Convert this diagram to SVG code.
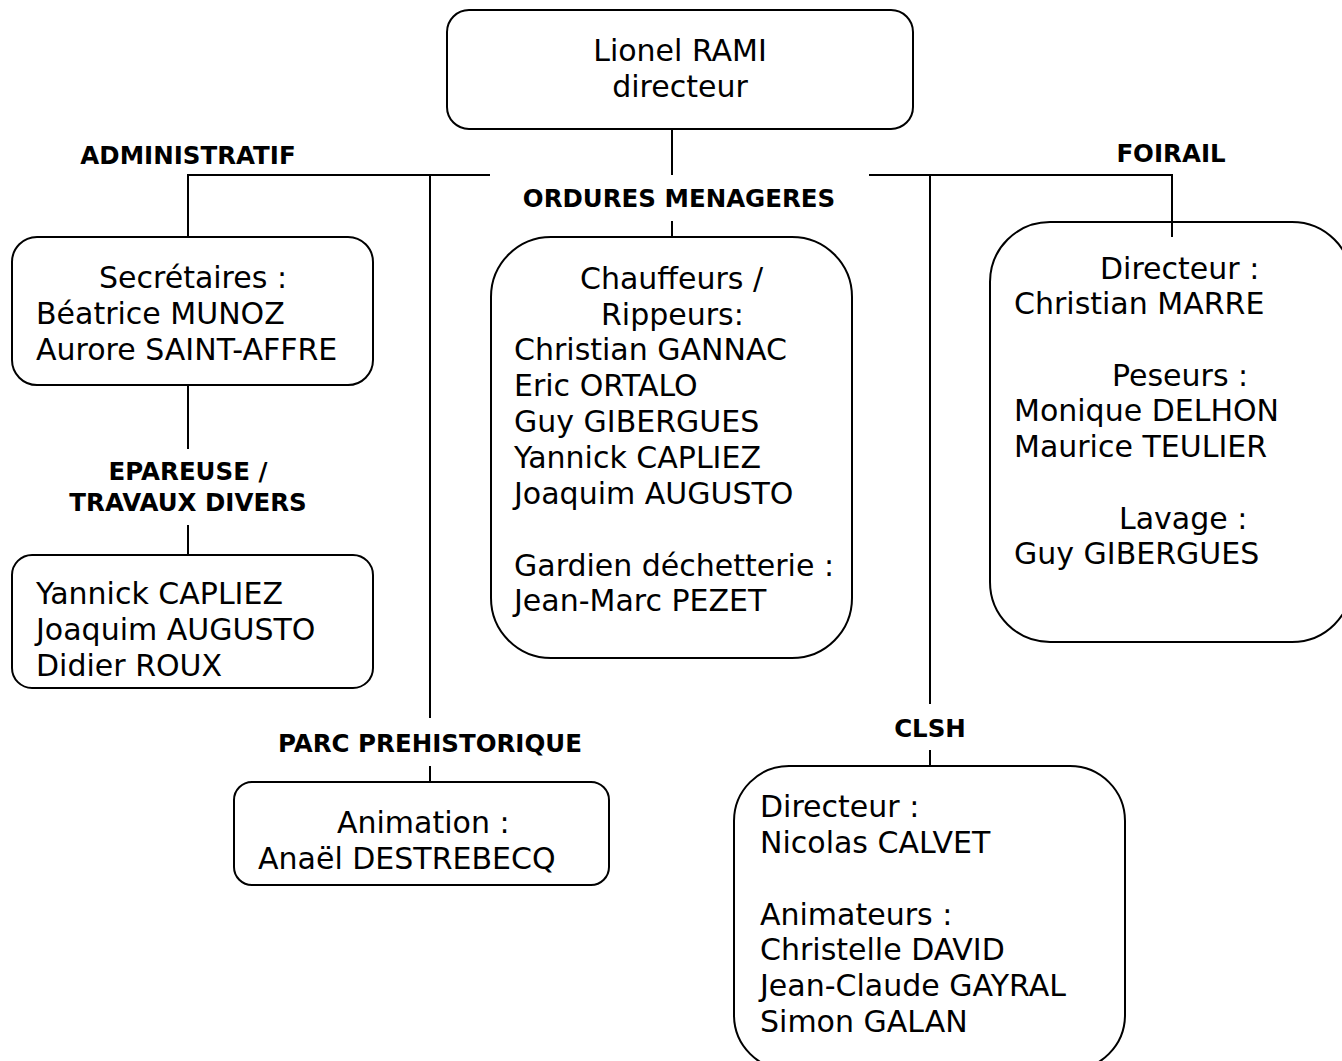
<svg xmlns="http://www.w3.org/2000/svg" width="1342" height="1061" viewBox="0 0 1342 1061">
<style>
.box{fill:#fff;stroke:#000;stroke-width:2}
.t{font-family:"DejaVu Sans",Verdana,sans-serif;font-size:30px;fill:#000}
.c{text-anchor:middle}
.lbl{font-family:"DejaVu Sans",Verdana,sans-serif;font-size:24.5px;font-weight:bold;fill:#000;text-anchor:middle}
.ln{stroke:#000;stroke-width:2;fill:none}
</style>
<rect width="1342" height="1061" fill="#fff"/>
<g id="connectors">
<line class="ln" x1="672" y1="129" x2="672" y2="175"/>
<line class="ln" x1="188" y1="175" x2="490" y2="175"/>
<line class="ln" x1="869" y1="175" x2="1172" y2="175"/>
<line class="ln" x1="188" y1="174" x2="188" y2="237"/>
<line class="ln" x1="430" y1="174" x2="430" y2="718"/>
<line class="ln" x1="430" y1="766" x2="430" y2="782"/>
<line class="ln" x1="930" y1="174" x2="930" y2="704"/>
<line class="ln" x1="930" y1="750" x2="930" y2="766"/>
<line class="ln" x1="1172" y1="174" x2="1172" y2="222"/>
<line class="ln" x1="672" y1="221" x2="672" y2="237"/>
<line class="ln" x1="188" y1="385" x2="188" y2="449"/>
<line class="ln" x1="188" y1="525" x2="188" y2="555"/>
</g>
<g id="director">
<rect class="box" x="447" y="10" width="466" height="119" rx="22"/>
<text class="t c" x="680" y="61">Lionel RAMI</text>
<text class="t c" x="680" y="97">directeur</text>
</g>
<g id="label-administratif"><text class="lbl" x="188" y="164">ADMINISTRATIF</text></g>
<g id="label-ordures"><text class="lbl" x="679" y="207">ORDURES MENAGERES</text></g>
<g id="label-foirail"><text class="lbl" x="1171" y="162">FOIRAIL</text></g>
<g id="label-epareuse">
<text class="lbl" x="188" y="480">EPAREUSE /</text>
<text class="lbl" x="188" y="511">TRAVAUX DIVERS</text>
</g>
<g id="label-parc"><text class="lbl" x="430" y="752">PARC PREHISTORIQUE</text></g>
<g id="label-clsh"><text class="lbl" x="930" y="737">CLSH</text></g>
<g id="secretaires">
<rect class="box" x="12" y="237" width="361" height="148" rx="25"/>
<text class="t" x="99" y="288">Secrétaires :</text>
<text class="t" x="36" y="324">Béatrice MUNOZ</text>
<text class="t" x="36" y="360">Aurore SAINT-AFFRE</text>
</g>
<g id="epareuse">
<rect class="box" x="12" y="555" width="361" height="133" rx="20"/>
<text class="t" x="36" y="604">Yannick CAPLIEZ</text>
<text class="t" x="36" y="640">Joaquim AUGUSTO</text>
<text class="t" x="36" y="676">Didier ROUX</text>
</g>
<g id="ordures">
<rect class="box" x="491" y="237" width="361" height="421" rx="60"/>
<text class="t" x="580" y="289">Chauffeurs /</text>
<text class="t" x="601" y="325">Rippeurs:</text>
<text class="t" x="514" y="360">Christian GANNAC</text>
<text class="t" x="514" y="396">Eric ORTALO</text>
<text class="t" x="514" y="432">Guy GIBERGUES</text>
<text class="t" x="514" y="468">Yannick CAPLIEZ</text>
<text class="t" x="514" y="504">Joaquim AUGUSTO</text>
<text class="t" x="514" y="576">Gardien déchetterie :</text>
<text class="t" x="514" y="611">Jean-Marc PEZET</text>
</g>
<g id="foirail">
<rect class="box" x="990" y="222" width="362" height="420" rx="60"/>
<line class="ln" x1="1172" y1="222" x2="1172" y2="237"/>
<text class="t" x="1100" y="279">Directeur :</text>
<text class="t" x="1014" y="314">Christian MARRE</text>
<text class="t" x="1112" y="386">Peseurs :</text>
<text class="t" x="1014" y="421">Monique DELHON</text>
<text class="t" x="1014" y="457">Maurice TEULIER</text>
<text class="t" x="1119" y="529">Lavage :</text>
<text class="t" x="1014" y="564">Guy GIBERGUES</text>
</g>
<g id="parc">
<rect class="box" x="234" y="782" width="375" height="103" rx="18"/>
<text class="t" x="337" y="833">Animation :</text>
<text class="t" x="258" y="869">Anaël DESTREBECQ</text>
</g>
<g id="clsh">
<rect class="box" x="734" y="766" width="391" height="304" rx="55"/>
<text class="t" x="760" y="817">Directeur :</text>
<text class="t" x="760" y="853">Nicolas CALVET</text>
<text class="t" x="760" y="925">Animateurs :</text>
<text class="t" x="760" y="960">Christelle DAVID</text>
<text class="t" x="760" y="996">Jean-Claude GAYRAL</text>
<text class="t" x="760" y="1032">Simon GALAN</text>
</g>
</svg>
